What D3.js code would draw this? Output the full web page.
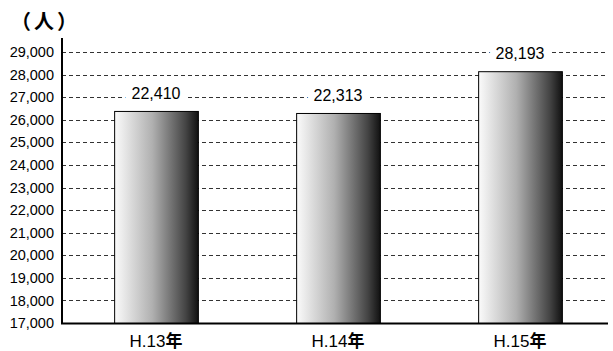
<!DOCTYPE html>
<html>
<head>
<meta charset="utf-8">
<script src="https://cdn.jsdelivr.net/npm/d3@7"></script>
<style>
  body { margin: 0; background: #fff; }
  text { font-family: "Liberation Sans", Arial, "Noto Sans CJK JP", sans-serif; }
</style>
</head>
<body>
<svg id="canvas" width="613" height="351"></svg>
<script>
// categories and values
const years = ['H.13', 'H.14', 'H.15'];
const yearSuffix = '年';
// bar heights as drawn
const barValues = [26390, 26300, 28150];
// printed labels above the bars
const barLabels = ['22,410', '22,313', '28,193'];
const yTicks = [17000, 18000, 19000, 20000, 21000, 22000, 23000, 24000, 25000, 26000, 27000, 28000, 29000];

const svg = d3.select('#canvas');

const plotLeft = 62, plotRight = 607, plotBottom = 323, plotTop = 52;

/** Scales */
const x = d3.scaleBand()
    .domain(years)
    .range([65, 611])
    .paddingInner(0.54)
    .paddingOuter(0.27);

const y = d3.scaleLinear()
    .domain([17000, 29000])
    .range([plotBottom, plotTop]);

/** Gradient for bars */
const grad = svg.append('defs').append('linearGradient')
    .attr('id', 'barGrad')
    .attr('x1', '0%').attr('x2', '100%')
    .attr('y1', '0%').attr('y2', '0%');
grad.append('stop').attr('offset', '0%').attr('stop-color', '#fbfbfb');
grad.append('stop').attr('offset', '45%').attr('stop-color', '#b0b0b0');
grad.append('stop').attr('offset', '85%').attr('stop-color', '#444');
grad.append('stop').attr('offset', '100%').attr('stop-color', '#111');

/** Grid lines */
svg.selectAll('line.grid')
    .data(yTicks.slice(1))
    .enter()
    .append('line')
    .attr('class', 'grid')
    .attr('x1', plotLeft)
    .attr('x2', plotRight)
    .attr('y1', d => Math.round(y(d)) + 0.5)
    .attr('y2', d => Math.round(y(d)) + 0.5)
    .attr('stroke', '#333')
    .attr('stroke-dasharray', '4,3');

/** Y axis */
const yAxis = d3.axisLeft(y)
    .tickValues(yTicks)
    .tickSize(0)
    .tickPadding(8)
    .tickFormat(d3.format(','));

svg.append('g')
    .attr('transform', `translate(${plotLeft},0)`)
    .call(yAxis)
    .call(g => g.select('.domain').remove())
    .selectAll('text')
    .attr('font-size', 14.5)
    .attr('fill', '#000');

/** Bars */
svg.selectAll('rect.bar')
    .data(barValues)
    .enter()
    .append('rect')
    .attr('class', 'bar')
    .attr('x', (d, i) => x(years[i]) + 0.5)
    .attr('y', d => y(d) + 0.5)
    .attr('width', x.bandwidth())
    .attr('height', d => plotBottom - y(d))
    .attr('fill', 'url(#barGrad)')
    .attr('stroke', '#000')
    .attr('stroke-width', 1);

/** Value labels (white backing hides the dashes) */
svg.selectAll('text.val')
    .data(barValues)
    .enter()
    .append('text')
    .attr('class', 'val')
    .attr('x', (d, i) => x(years[i]) + x.bandwidth() / 2)
    .attr('y', d => y(d) - 12)
    .attr('text-anchor', 'middle')
    .attr('font-size', 16)
    .attr('stroke', '#fff')
    .attr('stroke-width', 14)
    .attr('stroke-linejoin', 'round')
    .attr('paint-order', 'stroke')
    .text((d, i) => barLabels[i]);

/** Axis lines */
svg.append('line')
    .attr('x1', plotLeft).attr('x2', plotLeft)
    .attr('y1', 38).attr('y2', plotBottom + 1)
    .attr('stroke', '#000').attr('stroke-width', 2);
svg.append('line')
    .attr('x1', plotLeft - 1).attr('x2', 608)
    .attr('y1', plotBottom + 0.5).attr('y2', plotBottom + 0.5)
    .attr('stroke', '#000').attr('stroke-width', 2);

/** X labels */
const cat = svg.selectAll('text.cat')
    .data(years)
    .enter()
    .append('text')
    .attr('class', 'cat')
    .attr('x', d => x(d) + x.bandwidth() / 2)
    .attr('y', 347)
    .attr('text-anchor', 'middle')
    .attr('font-size', 17);
cat.append('tspan').text(d => d);
cat.append('tspan')
    .attr('font-weight', 'bold')
    .attr('font-family', '"Noto Sans CJK JP", sans-serif')
    .text(yearSuffix);

/** Unit */
svg.append('text')
    .attr('x', 11)
    .attr('y', 29)
    .attr('font-size', 20)
    .attr('font-weight', 'bold')
    .attr('letter-spacing', 3)
    .attr('font-family', '"Noto Sans CJK JP", sans-serif')
    .text('（人）');
</script>
</body>
</html>
